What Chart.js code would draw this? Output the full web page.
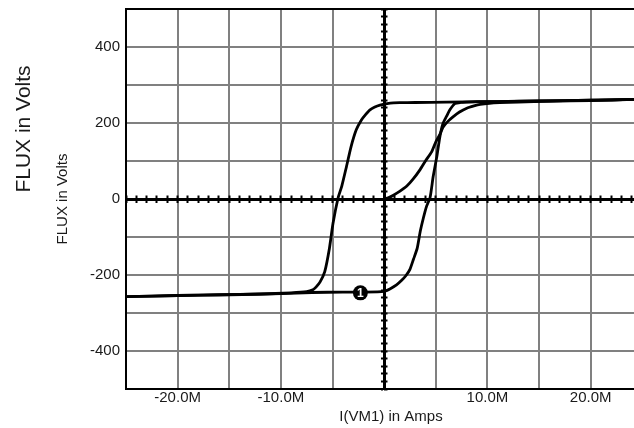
<!DOCTYPE html>
<html>
<head>
<meta charset="utf-8">
<title>FLUX vs I(VM1)</title>
<script src="https://cdn.jsdelivr.net/npm/chart.js@4.4.1/dist/chart.umd.min.js"></script>
<style>
  html, body { margin: 0; padding: 0; background: #fff; }
  canvas { display: block; }
</style>
</head>
<body>
<canvas id="chart" width="634" height="428"></canvas>
<script>
// Core hysteresis loop: flux against winding current (current in mA, SPICE "M" suffix).

// Initial magnetisation curve, starting from the demagnetised state
const initialCurrent = [0, 0.4, 0.9, 1.5, 2.2, 2.8, 3.5, 4.0, 4.6, 5.0, 5.4, 5.7, 6.2, 6.7, 7.3, 8.0, 8.7, 9.3, 10.2, 11.2, 13, 16, 20, 24.2];
const initialFlux    = [0, 3, 10, 20, 34, 52, 78, 100, 124, 150, 170, 189, 205, 217, 229, 239, 245, 249, 252, 253.5, 255, 257, 259, 262];

// Falling branch: positive saturation back to negative saturation
const fallingCurrent = [24.2, 20, 15, 10, 6, 3, 1.5, 0.9, 0.3, -0.4, -0.9, -1.4, -1.8, -2.2, -2.7, -3.2, -3.65, -4.1, -4.45, -4.95, -5.3, -5.75, -6.2, -6.6, -6.9, -7.5, -9, -12, -16, -20, -25];
const fallingFlux    = [262, 260, 258, 256, 255, 254, 253.5, 253, 251, 247, 242, 234, 222, 208, 182, 138, 85, 34, 4, -64, -130, -191, -218, -232, -239, -244, -247, -250, -252, -254, -257];

// Rising branch: negative saturation up to positive saturation
const risingCurrent = [-25, -20, -15, -10, -7, -4, -2, 0, 0.6, 1.2, 1.7, 2.1, 2.5, 2.85, 3.2, 3.5, 3.8, 4.1, 4.45, 4.75, 5.1, 5.4, 5.7, 6.05, 6.4, 6.85, 7.4, 8.0, 9, 11, 15, 20, 24.2];
const risingFlux    = [-257, -254, -252, -249, -246, -245, -245, -243, -236, -226, -214, -202, -185, -158, -130, -85, -50, -20, 4, 59, 111, 164, 199, 218, 236, 251, 254, 255, 256, 256.5, 258, 260, 262];

// Trace identifier marker
const markerCurrent = [-2.3];
const markerFlux    = [-247];
const markerLabel   = '1';

// Axis ranges and labelled ticks
const currentMin = -25;
const currentMax = 24.2;
const fluxMin = -500;
const fluxMax = 500;
const currentTickLabels = [-20, -10, 10, 20];
const fluxTickLabels = [-400, -200, 0, 200, 400];

const xTitle = 'I(VM1) in Amps';
const yTitle = 'FLUX in Volts';

const FONT = "'Liberation Sans', Arial, Helvetica, sans-serif";
const GRID = '#808080';

function zip(xs, ys) {
  return xs.map((x, i) => ({ x: x, y: ys[i] }));
}

const curveStyle = {
  showLine: true,
  borderColor: '#000',
  borderWidth: 2.8,
  pointRadius: 0,
  pointHoverRadius: 0,
  tension: 0.2,
  fill: false
};

// Scales keep an exact size and reserve no extra room for edge labels
function fixSize(width, height) {
  return s => {
    if (width !== null) s.width = width;
    if (height !== null) s.height = height;
    s.paddingLeft = 0;
    s.paddingRight = 0;
    s.paddingTop = 0;
    s.paddingBottom = 0;
  };
}

// Axis titles and the marker number
const textPlugin = {
  id: 'plotText',
  afterDatasetsDraw(chart) {
    const ctx = chart.ctx;
    ctx.save();
    const el = chart.getDatasetMeta(0).data[0];
    ctx.fillStyle = '#fff';
    ctx.font = 'bold 12px ' + FONT;
    ctx.textAlign = 'center';
    ctx.textBaseline = 'middle';
    ctx.fillText(markerLabel, el.x, el.y + 0.5);
    ctx.restore();
  },
  afterDraw(chart) {
    const ctx = chart.ctx;
    ctx.save();
    ctx.fillStyle = '#1a1a1a';
    ctx.textAlign = 'center';
    ctx.textBaseline = 'middle';

    ctx.font = '15px ' + FONT;
    ctx.fillText(xTitle, 391, 417);

    ctx.save();
    ctx.translate(24, 129);
    ctx.rotate(-Math.PI / 2);
    ctx.font = '21px ' + FONT;
    ctx.fillText(yTitle, 0, 0);
    ctx.restore();

    ctx.save();
    ctx.translate(63, 199);
    ctx.rotate(-Math.PI / 2);
    ctx.font = '15px ' + FONT;
    ctx.fillText(yTitle, 0, 0);
    ctx.restore();

    ctx.restore();
  }
};

// Crosshair axis through the origin; two half-axes give ticks on both sides
function crossX(tickLength, withBorder) {
  return {
    type: 'linear', axis: 'x', position: { y: 0 },
    min: currentMin, max: currentMax,
    afterFit: fixSize(null, null),
    ticks: { display: false, stepSize: 1, includeBounds: false },
    grid: { display: true, drawOnChartArea: false, drawTicks: true, tickLength: tickLength, tickColor: '#000', tickWidth: 2, color: '#000' },
    border: { display: withBorder, color: '#000', width: 3 }
  };
}
function crossY(tickLength, withBorder) {
  return {
    type: 'linear', axis: 'y', position: { x: 0 },
    min: fluxMin, max: fluxMax,
    afterFit: fixSize(null, null),
    ticks: { display: false, stepSize: 20, includeBounds: false },
    grid: { display: true, drawOnChartArea: false, drawTicks: true, tickLength: tickLength, tickColor: '#000', tickWidth: 2, color: '#000' },
    border: { display: withBorder, color: '#000', width: 3 }
  };
}

new Chart(document.getElementById('chart'), {
  type: 'scatter',
  data: {
    datasets: [
      {
        data: zip(markerCurrent, markerFlux),
        showLine: false,
        pointRadius: 7.5,
        pointHoverRadius: 7.5,
        pointBackgroundColor: '#000',
        pointBorderWidth: 0
      },
      Object.assign({ data: zip(initialCurrent, initialFlux) }, curveStyle),
      Object.assign({ data: zip(fallingCurrent, fallingFlux) }, curveStyle),
      Object.assign({ data: zip(risingCurrent, risingFlux) }, curveStyle)
    ]
  },
  options: {
    responsive: false,
    animation: false,
    events: [],
    layout: { autoPadding: false, padding: { top: 9, left: 0, right: 0, bottom: 0 } },
    plugins: { legend: { display: false }, tooltip: { enabled: false } },
    scales: {
      x: {
        type: 'linear', position: 'bottom',
        min: currentMin, max: currentMax,
        afterFit: fixSize(null, 39),
        ticks: {
          stepSize: 5, includeBounds: false, autoSkip: false, maxRotation: 0, padding: 0,
          color: '#1a1a1a', font: { family: FONT, size: 15 },
          callback: v => currentTickLabels.includes(v) ? v.toFixed(1) + 'M' : ''
        },
        grid: { color: GRID, lineWidth: 2, drawTicks: false },
        border: { color: '#000', width: 2 }
      },
      xTop: {
        type: 'linear', axis: 'x', position: 'top',
        min: currentMin, max: currentMax,
        afterFit: fixSize(null, 0),
        ticks: { display: false },
        grid: { display: false, drawTicks: false },
        border: { display: true, color: '#000', width: 2 }
      },
      y: {
        type: 'linear', position: 'left',
        min: fluxMin, max: fluxMax,
        afterFit: fixSize(126, null),
        ticks: {
          stepSize: 100, autoSkip: false, padding: 6,
          color: '#1a1a1a', font: { family: FONT, size: 15 },
          callback: v => fluxTickLabels.includes(v) ? String(v) : ''
        },
        grid: { color: GRID, lineWidth: 2, drawTicks: false },
        border: { color: '#000', width: 2 }
      },
      xCrossA: crossX(2, true),
      xCrossB: crossX(-3.5, false),
      yCrossA: crossY(2, true),
      yCrossB: crossY(-3.5, false)
    }
  },
  plugins: [textPlugin]
});
</script>
</body>
</html>
